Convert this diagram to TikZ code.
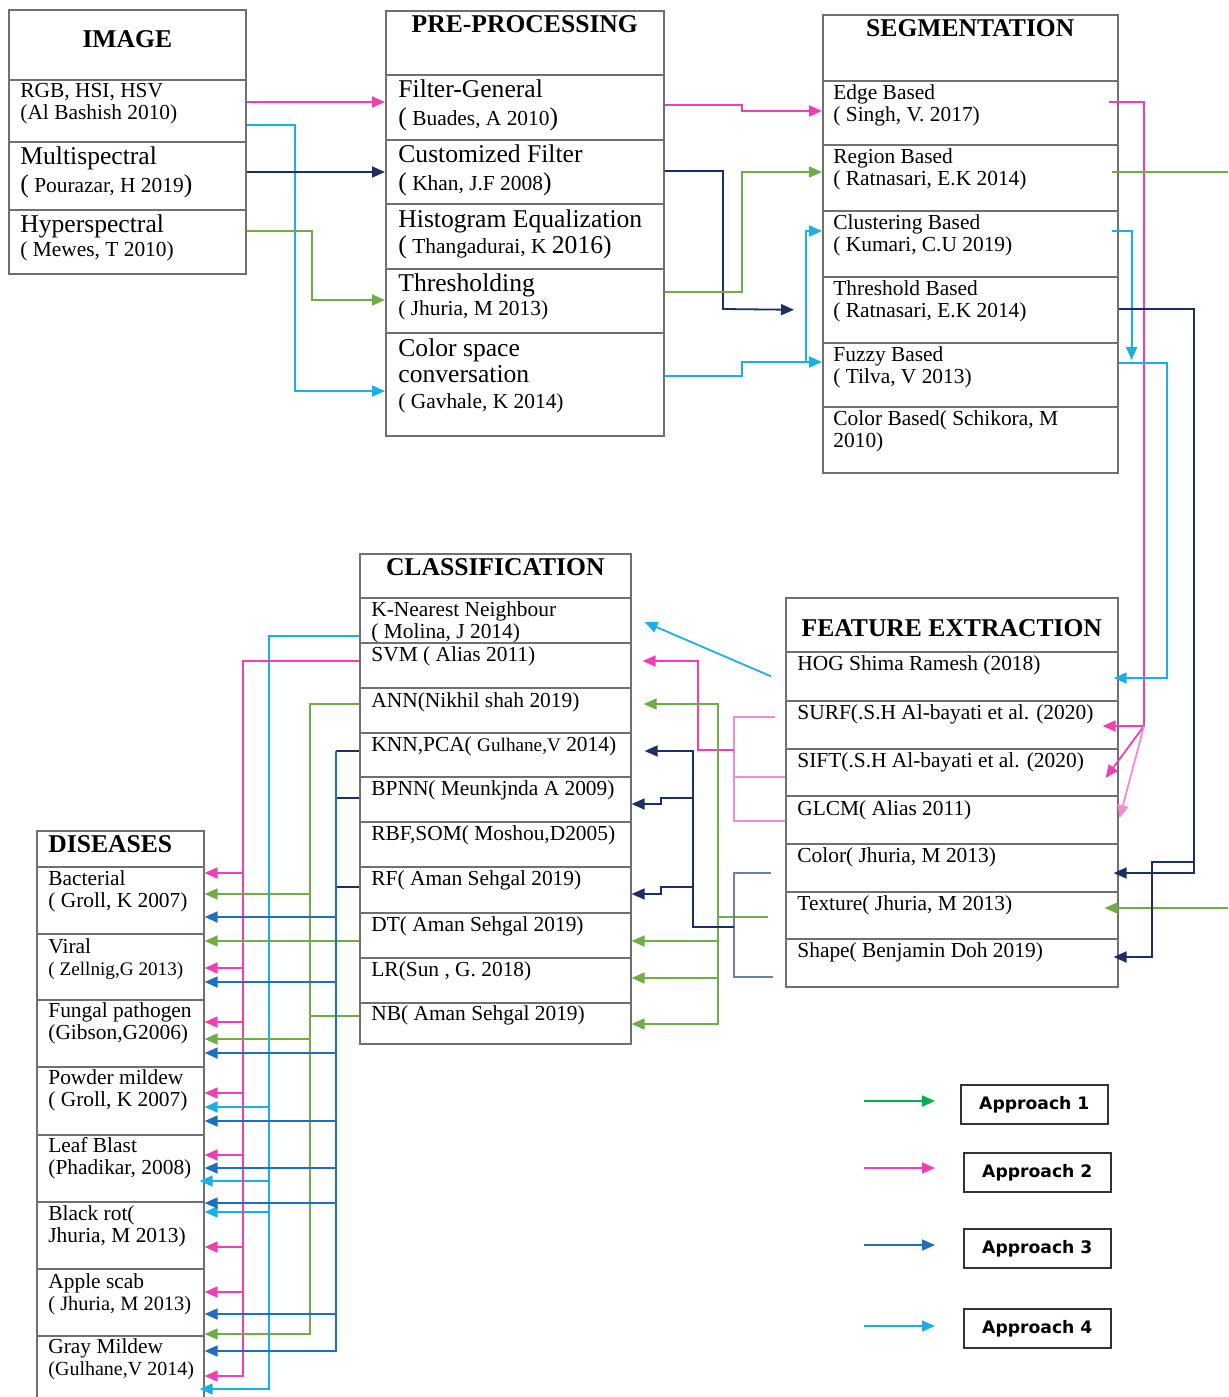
\documentclass[tikz,border=0pt]{standalone}
\usepackage{fontspec}
\setmainfont{Liberation Serif}
\newfontfamily\legfont{DejaVu Sans}
\usetikzlibrary{arrows.meta}
\definecolor{pk}{HTML}{EE3FB5}
\definecolor{pkl}{HTML}{F48BD2}
\definecolor{cy}{HTML}{1AAFE6}
\definecolor{nv}{HTML}{1B2F66}
\definecolor{gr}{HTML}{70AD47}
\definecolor{bl}{HTML}{1F6EBF}
\definecolor{sl}{HTML}{6D7FA6}
\definecolor{lg}{HTML}{00B050}
\definecolor{boxgray}{HTML}{707070}
\newcommand{\smtxt}{\fontsize{10.7}{11}\selectfont}
\newcommand{\bigtxt}{\fontsize{12.8}{14}\selectfont}
\begin{document}
\begin{tikzpicture}[x=0.5pt,y=-0.5pt,
    cell/.style 2 args={draw=boxgray,line width=0.8pt,anchor=north west,inner sep=0pt,minimum width=#1*0.5pt,minimum height=#2*0.5pt},
    txt/.style={anchor=north west,inner sep=0pt,align=left,xshift=6pt,font=\smtxt},
    txtb/.style={txt,font=\fontsize{12.8}{#1}\selectfont},
    ttl/.style={anchor=north,inner sep=0pt,font=\fontsize{12.8}{14}\selectfont\bfseries},
    legbox/.style={draw=black!80,line width=0.8pt,anchor=north west,inner sep=0pt,minimum width=147*0.5pt,minimum height=39*0.5pt,font=\legfont\bfseries\fontsize{8.6}{10}\selectfont},
    ln/.style={line width=0.9pt},
    con/.style={ln,-{Triangle[length=6.5pt,width=5.5pt]}}]
  \useasboundingbox (0,0) rectangle (1228,1397);
  \clip (0,0) rectangle (1228,1397);
  % image
  \node[cell={237}{70},label={[ttl,yshift=-10.5pt]north:IMAGE}] (imghead) at (8,9) {};
  \node[cell={237}{62},label={[txt,yshift=-1.75pt]north west:{RGB, HSI, HSV\\(Al Bashish 2010)}}] (rgb) at (8,79) {};
  \node[cell={237}{68},label={[txtb=14,yshift=-2.5pt]north west:{Multispectral\\{\smtxt{\bigtxt(} Pourazar, H 2019{\bigtxt)}}}}] (multi) at (8,141) {};
  \node[cell={237}{64},label={[txtb=12,yshift=-2.5pt]north west:{Hyperspectral\\{\smtxt( Mewes, T 2010)}}}] (hyper) at (8,209) {};
  % pre-processing
  \node[cell={278}{64},label={[ttl,yshift=-2.5pt]north:PRE-PROCESSING}] (prehead) at (385,10) {};
  \node[cell={278}{65},label={[txtb=14,xshift=0.5pt,yshift=-2.5pt]north west:{Filter-General\\{\smtxt{\bigtxt(} Buades, A 2010{\bigtxt)}}}}] (filt) at (385,74) {};
  \node[cell={278}{64},label={[txtb=14,xshift=0.5pt,yshift=-2.5pt]north west:{Customized Filter\\{\smtxt{\bigtxt(} Khan, J.F 2008{\bigtxt)}}}}] (cust) at (385,139) {};
  \node[cell={278}{65},label={[txtb=13,xshift=0.5pt,yshift=-3pt]north west:{Histogram Equalization\\{\smtxt{\bigtxt(} Thangadurai, K {\bigtxt 2016)}}}}] (hist) at (385,203) {};
  \node[cell={278}{64},label={[txtb=12,xshift=0.5pt,yshift=-2.5pt]north west:{Thresholding\\{\smtxt( Jhuria, M 2013)}}}] (thr) at (385,268) {};
  \node[cell={278}{103},label={[txtb=13,xshift=0.5pt,yshift=-3pt]north west:{Color space\\conversation\\{\smtxt( Gavhale, K 2014)}}}] (csp) at (385,332) {};
  % segmentation
  \node[cell={295}{66},label={[ttl,yshift=-2.5pt]north:SEGMENTATION}] (seghead) at (822,14) {};
  \node[cell={295}{64},label={[txt,xshift=-0.5pt,yshift=-2.25pt]north west:{Edge Based\\( Singh, V. 2017)}}] (edge) at (822,80) {};
  \node[cell={295}{66},label={[txt,xshift=-0.5pt,yshift=-2.25pt]north west:{Region Based\\( Ratnasari, E.K 2014)}}] (region) at (822,144) {};
  \node[cell={295}{66},label={[txt,xshift=-0.5pt,yshift=-2.25pt]north west:{Clustering Based\\( Kumari, C.U 2019)}}] (clus) at (822,210) {};
  \node[cell={295}{66},label={[txt,xshift=-0.5pt,yshift=-2.25pt]north west:{Threshold Based\\( Ratnasari, E.K 2014)}}] (thrb) at (822,276) {};
  \node[cell={295}{64},label={[txt,xshift=-0.5pt,yshift=-2.25pt]north west:{Fuzzy Based\\( Tilva, V 2013)}}] (fuzzy) at (822,342) {};
  \node[cell={295}{66},label={[txt,xshift=-0.5pt,yshift=-2.25pt]north west:{Color Based( Schikora, M\\2010)}}] (colb) at (822,406) {};
  % classification
  \node[cell={271}{44},label={[ttl,yshift=-2.5pt]north:CLASSIFICATION}] (clhead) at (359,553) {};
  \node[cell={271}{45},label={[txt,yshift=-2.25pt]north west:{K-Nearest Neighbour\\( Molina, J 2014)}}] (knn) at (359,597) {};
  \node[cell={271}{45},label={[txt,yshift=-2.25pt]north west:{SVM ( Alias 2011)}}] (svm) at (359,642) {};
  \node[cell={271}{45},label={[txt,yshift=-2.75pt]north west:{ANN(Nikhil shah 2019)}}] (ann) at (359,687) {};
  \node[cell={271}{44},label={[txt,yshift=-2.25pt]north west:{KNN,PCA( {\fontsize{9.6}{11}\selectfont Gulhane,V} 2014)}}] (pca) at (359,732) {};
  \node[cell={271}{45},label={[txt,yshift=-2.25pt]north west:{BPNN( Meunkjnda A 2009)}}] (bpnn) at (359,776) {};
  \node[cell={271}{45},label={[txt,yshift=-2.25pt]north west:{RBF,SOM( Moshou,D2005)}}] (rbf) at (359,821) {};
  \node[cell={271}{46},label={[txt,yshift=-2.25pt]north west:{RF( Aman Sehgal 2019)}}] (rf) at (359,866) {};
  \node[cell={271}{45},label={[txt,yshift=-2.25pt]north west:{DT( Aman Sehgal 2019)}}] (dt) at (359,912) {};
  \node[cell={271}{45},label={[txt,yshift=-2.25pt]north west:{LR(Sun , G. 2018)}}] (lr) at (359,957) {};
  \node[cell={271}{41},label={[txt,yshift=-1.75pt]north west:{NB( Aman Sehgal 2019)}}] (nb) at (359,1002) {};
  % feature extraction
  \node[cell={332}{54},label={[ttl,yshift=-11pt]north:FEATURE EXTRACTION}] (fehead) at (785,597) {};
  \node[cell={332}{49},label={[txt,yshift=-2.25pt]north west:{HOG Shima Ramesh (2018)}}] (hog) at (785,651) {};
  \node[cell={332}{48},label={[txt,yshift=-2.25pt]north west:{SURF(.S.H Al-bayati et al. (2020)}}] (surf) at (785,700) {};
  \node[cell={332}{47},label={[txt,yshift=-2.25pt]north west:{SIFT(.S.H Al-bayati et al. (2020)}}] (sift) at (785,748) {};
  \node[cell={332}{48},label={[txt,yshift=-2.75pt]north west:{GLCM( Alias 2011)}}] (glcm) at (785,795) {};
  \node[cell={332}{48},label={[txt,yshift=-2.25pt]north west:{Color( Jhuria, M 2013)}}] (fcol) at (785,843) {};
  \node[cell={332}{47},label={[txt,yshift=-2.25pt]north west:{Texture( Jhuria, M 2013)}}] (ftex) at (785,891) {};
  \node[cell={332}{48},label={[txt,yshift=-2.25pt]north west:{Shape( Benjamin Doh 2019)}}] (fshape) at (785,938) {};
  % diseases
  \node[cell={167}{36},label={[txt,font=\fontsize{12.8}{14}\selectfont\bfseries,yshift=-2.5pt]north west:DISEASES}] (dhead) at (36,830) {};
  \node[cell={167}{67},label={[txt,yshift=-2pt]north west:{Bacterial\\( Groll, K 2007)}}] (bact) at (36,866) {};
  \node[cell={167}{66},label={[txt,yshift=-2.5pt]north west:{Viral\\{\fontsize{9.6}{11}\selectfont( Zellnig,G 2013)}}}] (viral) at (36,933) {};
  \node[cell={167}{67},label={[txt,yshift=-1.75pt]north west:{Fungal pathogen\\(Gibson,G2006)}}] (fung) at (36,999) {};
  \node[cell={167}{68},label={[txt,yshift=-1.75pt]north west:{Powder mildew\\( Groll, K 2007)}}] (powd) at (36,1066) {};
  \node[cell={167}{67},label={[txt,yshift=-1.75pt]north west:{Leaf Blast\\(Phadikar, 2008)}}] (leaf) at (36,1134) {};
  \node[cell={167}{67},label={[txt,yshift=-2.25pt]north west:{Black rot(\\Jhuria, M 2013)}}] (black) at (36,1201) {};
  \node[cell={167}{67},label={[txt,yshift=-2.5pt]north west:{Apple scab\\{\fontsize{10.2}{11}\selectfont( Jhuria, M 2013)}}}] (apple) at (36,1268) {};
  \node[cell={167}{70},label={[txt,yshift=-1.75pt]north west:{Gray Mildew\\{\fontsize{10}{11}\selectfont(Gulhane,V 2014)}}}] (gray) at (36,1335) {};
  % legend
  \node[legbox] (leg1) at (960,1084) {Approach 1};
  \node[legbox] (leg2) at (963,1152) {Approach 2};
  \node[legbox] (leg3) at (963,1228) {Approach 3};
  \node[legbox] (leg4) at (963,1308) {Approach 4};
  % bus lines
  \coordinate (cyi) at (295,0);
  \coordinate (gri) at (312,0);
  \coordinate (pkp) at (742,0);
  \coordinate (nvp) at (723,0);
  \coordinate (cyp) at (806,0);
  \coordinate (pkj) at (1144,726);
  \coordinate (cyh) at (1167,0);
  \coordinate (nvs) at (1194,0);
  \coordinate (nvt) at (1152,0);
  \coordinate (grs) at (1240,0);
  \coordinate (pkb) at (734,0);
  \coordinate (pkf) at (698,0);
  \coordinate (grf) at (718,0);
  \coordinate (nvf) at (693,0);
  \coordinate (nvg) at (661,0);
  \coordinate (pkv) at (243,0);
  \coordinate (cyv) at (269,0);
  \coordinate (grv) at (310,0);
  \coordinate (blv) at (336,0);
  % image -> pre-processing
  \draw[con,pk] (rgb.east |- 0,102) -- (filt.west |- 0,102);
  \draw[con,cy] (rgb.east |- 0,125) -| (cyi |- 0,391) -- (csp.west |- 0,391);
  \draw[con,nv] (multi.east |- 0,172) -- (cust.west |- 0,172);
  \draw[con,gr] (hyper.east |- 0,231) -| (gri |- 0,300) -- (thr.west |- 0,300);
  % pre-processing -> segmentation
  \draw[con,pk] (filt.east |- 0,105) -| (pkp |- 0,111) -- (edge.west |- 0,111);
  \draw[con,nv] (cust.east |- 0,171) -| (nvp |- 0,309) -- ([xshift=-14pt]thrb.west);
  \draw[con,gr] (thr.east |- 0,292) -| (pkp |- 0,172) -- (region.west |- 0,172);
  \draw[con,cy] (csp.east |- 0,376) -| (pkp |- 0,362) -- (fuzzy.west |- 0,362);
  \draw[con,cy] (cyp |- 0,362) |- (clus.west |- 0,231);
  % segmentation -> feature extraction
  \draw[ln,pk] ([xshift=-5pt]edge.east |- 0,102) -| (pkj);
  \draw[con,pk] (pkj) -- ([xshift=-8pt]surf.east |- 0,726);
  \draw[con,pk] (pkj) -- ([xshift=-6.5pt]sift.east |- 0,778);
  \draw[con,pkl] (pkj) -- ([xshift=0.5pt]glcm.east |- 0,818);
  \draw[con,gr] ([xshift=-3.5pt]region.east |- 0,172) -| (grs |- 0,908) -- ([xshift=-7pt]ftex.east |- 0,908);
  \draw[con,cy] ([xshift=-3.5pt]clus.east |- 0,231) -| ([xshift=6.5pt]fuzzy.east |- 0,360);
  \draw[con,cy] (fuzzy.east |- 0,363) -| (cyh |- 0,678) -- ([xshift=-2.5pt]hog.east |- 0,678);
  \draw[con,nv] (thrb.east |- 0,309) -| (nvs |- 0,873) -- ([xshift=-2.5pt]fcol.east |- 0,873);
  \draw[con,nv] (nvs |- 0,862) -| (nvt |- 0,957) -- ([xshift=-2.5pt]fshape.east |- 0,957);
  % feature extraction -> classification
  \draw[con,cy] ([xshift=-7pt]hog.west) -- ([xshift=6.5pt]knn.east |- 0,622);
  \draw[ln,pkl] ([xshift=-5pt]surf.west |- 0,717) -| (pkb |- 0,821) -- (glcm.west |- 0,821);
  \draw[ln,pkl] (pkb |- 0,777) -- (sift.west |- 0,777);
  \draw[con,pk] (pkb |- 0,750) -| (pkf |- 0,661) -- ([xshift=5.5pt]svm.east |- 0,661);
  \draw[con,gr] ([xshift=-8.5pt]ftex.west |- 0,917) -| (grf |- 0,704) -- ([xshift=6pt]ann.east |- 0,704);
  \draw[con,gr] (grf |- 0,917) |- (nb.east |- 0,1024);
  \draw[con,gr] (grf |- 0,941) -- (dt.east |- 0,941);
  \draw[con,gr] (grf |- 0,978) -- (lr.east |- 0,978);
  \draw[ln,sl] ([xshift=-7pt]fcol.west |- 0,873) -| (pkb |- 0,977) -- ([xshift=-6pt]fshape.west |- 0,977);
  \draw[con,nv] (pkb |- 0,927) -| (nvf |- 0,751) -- ([xshift=6.5pt]pca.east |- 0,751);
  \draw[con,nv] (nvf |- 0,798) -| (nvg |- 0,804) -- (bpnn.east |- 0,804);
  \draw[con,nv] (nvf |- 0,887) -| (nvg |- 0,894) -- (rf.east |- 0,894);
  % classification -> diseases
  \draw[con,cy] (knn.west |- 0,636) -| (cyv |- 0,1389) -- ([xshift=-2.5pt]gray.east |- 0,1389);
  \draw[con,cy] (cyv |- 0,1107) -- (powd.east |- 0,1107);
  \draw[con,cy] (cyv |- 0,1181) -- ([xshift=-2.5pt]leaf.east |- 0,1181);
  \draw[con,cy] (cyv |- 0,1212) -- (black.east |- 0,1212);
  \draw[con,pk] (svm.west |- 0,661) -| (pkv |- 0,1376) -- (gray.east |- 0,1376);
  \draw[con,pk] (pkv |- 0,873) -- (bact.east |- 0,873);
  \draw[con,pk] (pkv |- 0,968) -- (viral.east |- 0,968);
  \draw[con,pk] (pkv |- 0,1022) -- (fung.east |- 0,1022);
  \draw[con,pk] (pkv |- 0,1093) -- (powd.east |- 0,1093);
  \draw[con,pk] (pkv |- 0,1155) -- (leaf.east |- 0,1155);
  \draw[con,pk] (pkv |- 0,1247) -- (black.east |- 0,1247);
  \draw[con,pk] (pkv |- 0,1292) -- (apple.east |- 0,1292);
  \draw[con,gr] (ann.west |- 0,704) -| (grv |- 0,1334) -- (apple.east |- 0,1334);
  \draw[con,gr] (grv |- 0,894) -- (bact.east |- 0,894);
  \draw[con,gr] (grv |- 0,1039) -- (fung.east |- 0,1039);
  \draw[ln,gr] (nb.west |- 0,1016) -- (grv |- 0,1016);
  \draw[con,gr] (dt.west |- 0,941) -- (viral.east |- 0,941);
  \draw[ln,nv] (pca.west |- 0,751) -- (blv |- 0,751);
  \draw[ln,nv] (bpnn.west |- 0,798) -- (blv |- 0,798);
  \draw[ln,nv] (rf.west |- 0,887) -- (blv |- 0,887);
  \draw[con,bl] (blv |- 0,751) -- (blv |- 0,1351) -- (gray.east |- 0,1351);
  \draw[con,bl] (blv |- 0,917) -- (bact.east |- 0,917);
  \draw[con,bl] (blv |- 0,982) -- (viral.east |- 0,982);
  \draw[con,bl] (blv |- 0,1053) -- (fung.east |- 0,1053);
  \draw[con,bl] (blv |- 0,1121) -- (powd.east |- 0,1121);
  \draw[con,bl] (blv |- 0,1168) -- (leaf.east |- 0,1168);
  \draw[con,bl] (blv |- 0,1203) -- (black.east |- 0,1203);
  \draw[con,bl] (blv |- 0,1314) -- (apple.east |- 0,1314);
  % legend arrows
  \draw[con,lg] ([xshift=-48pt]leg1.west |- 0,1101) -- ([xshift=-12.5pt]leg1.west |- 0,1101);
  \draw[con,pk] ([xshift=-49.5pt]leg2.west |- 0,1168) -- ([xshift=-14pt]leg2.west |- 0,1168);
  \draw[con,bl] ([xshift=-49.5pt]leg3.west |- 0,1245) -- ([xshift=-14pt]leg3.west |- 0,1245);
  \draw[con,cy] ([xshift=-49.5pt]leg4.west |- 0,1326) -- ([xshift=-14pt]leg4.west |- 0,1326);
\end{tikzpicture}
\end{document}
